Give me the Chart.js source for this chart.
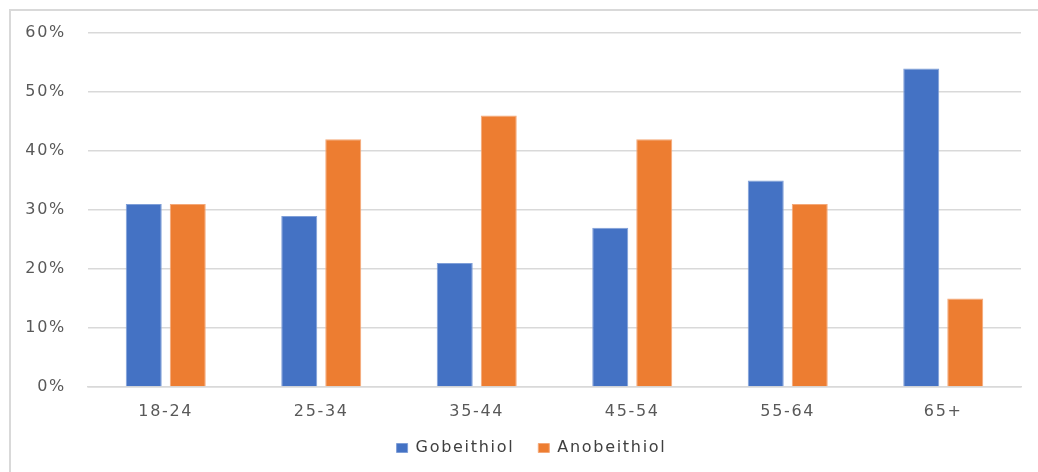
<!DOCTYPE html>
<html>
<head>
<meta charset="utf-8">
<script src="https://cdn.jsdelivr.net/npm/chart.js@4/dist/chart.umd.min.js"></script>
<style>
html,body{margin:0;padding:0;background:#fff;overflow:hidden;}
#frame{position:absolute;left:9px;top:9px;width:1100px;height:500px;border-top:2px solid #d9d9d9;border-left:2px solid #d9d9d9;box-sizing:border-box;}
#wrap{position:absolute;left:0;top:0;width:1038px;height:472px;}
</style>
</head>
<body>
<div id="frame"></div>
<div id="wrap"><canvas id="c"></canvas></div>
<script>
const categories = ['18-24','25-34','35-44','45-54','55-64','65+'];
const seriesNames = ['Gobeithiol','Anobeithiol'];
const gobeithiol = [31, 29, 21, 27, 35, 54];
const anobeithiol = [31, 42, 46, 42, 31, 15];
const yMax = 60;
const yStep = 10;

const spacing = {
  id: 'spacing',
  beforeUpdate(chart){ chart.ctx.letterSpacing = '1.7px'; },
  beforeDraw(chart){ chart.ctx.letterSpacing = '1.7px'; },
  afterLayout(chart){
    const l = chart.legend;
    if (l) { l.left += 21; l.right += 21; }
    const x = chart.scales.x;
    if (x) { x.bottom += 15; }
  }
};

Chart.defaults.font.family = '"DejaVu Sans", sans-serif';
Chart.defaults.font.size = 16;
Chart.defaults.color = '#595959';

new Chart(document.getElementById('c'), {
  type: 'bar',
  data: {
    labels: categories,
    datasets: [
      { label: seriesNames[0], data: gobeithiol, backgroundColor: '#4472C4', borderColor: '#7f9fd8', borderWidth: 1 },
      { label: seriesNames[1], data: anobeithiol, backgroundColor: '#ED7D31', borderColor: '#f4a878', borderWidth: 1 }
    ]
  },
  plugins: [spacing],
  options: {
    responsive: true,
    maintainAspectRatio: false,
    animation: false,
    layout: { padding: { left: 0, right: 17, top: 33, bottom: 6 } },
    datasets: { bar: { categoryPercentage: 0.566, barPercentage: 0.818 } },
    plugins: {
      tooltip: { enabled: false },
      legend: {
        position: 'bottom',
        labels: { boxWidth: 11, boxHeight: 9, padding: 24, color: '#404040', font: { size: 16 } }
      }
    },
    scales: {
      x: {
        grid: { display: false, drawTicks: false },
        border: { display: true, color: '#d9d9d9', width: 1.5 },
        ticks: { padding: 15, color: '#595959' },
        afterFit(s){ s.height = 29; }
      },
      y: {
        min: 0, max: yMax,
        grid: { color: '#d9d9d9', lineWidth: 1.5, drawTicks: false },
        border: { display: false },
        ticks: { stepSize: yStep, padding: 22, color: '#595959', callback: v => v + '%' },
        afterFit(s){ s.width = 88; }
      }
    }
  }
});
</script>
</body>
</html>
